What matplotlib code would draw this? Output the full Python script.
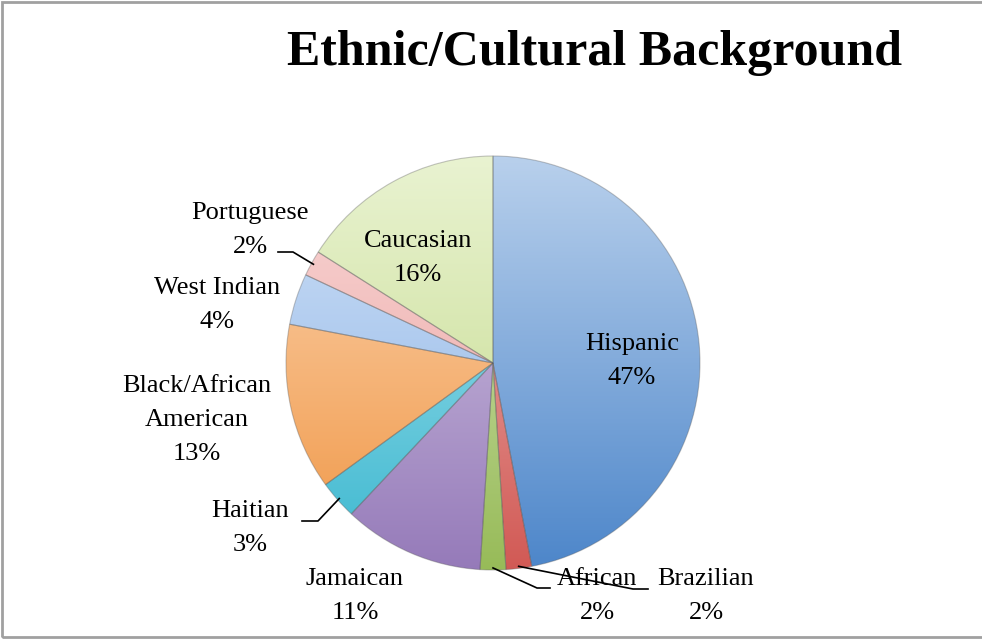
import numpy as np
import matplotlib
matplotlib.use('Agg')
import matplotlib.pyplot as plt
from matplotlib.colors import LinearSegmentedColormap, to_rgb
from matplotlib.patches import Rectangle

plt.rcParams['font.family'] = ['Liberation Serif', 'DejaVu Serif']

# данные
labels = ['Hispanic', 'Brazilian', 'African', 'Jamaican', 'Haitian',
          'Black/African\nAmerican', 'West Indian', 'Portuguese', 'Caucasian']
values = [47, 2, 2, 11, 3, 13, 4, 2, 16]
colors = ['#4f8ad0', '#d85c57', '#9cc15b', '#9a7ebf', '#3cbdd6',
          '#f79a45', '#8cb6ec', '#f0a09e', '#c8e08c']

W, H = 982, 640
cx, cy, r = 493, H - 363, 207

fig = plt.figure(figsize=(W / 100, H / 100), dpi=100)
ax = fig.add_axes([0, 0, 1, 1])

wedges, _ = ax.pie(values, colors=colors, startangle=90, counterclock=False,
                   center=(cx, cy), radius=r,
                   wedgeprops=dict(edgecolor=(0.35, 0.35, 0.35, 0.35), linewidth=0.8))

# градиент сверху вниз внутри каждого сектора
grad = np.linspace(0, 1, 256).reshape(-1, 1)
for w, c in zip(wedges, colors):
    base = np.array(to_rgb(c))
    light = base + (1 - base) * 0.6
    cmap = LinearSegmentedColormap.from_list('g', [base * 0.97, light])
    im = ax.imshow(grad, extent=[cx - r, cx + r, cy - r, cy + r], origin='lower',
                   cmap=cmap, aspect='auto', interpolation='bilinear', zorder=1)
    im.set_clip_path(w)
    w.set_facecolor('none')
    w.set_zorder(2)

# подписи: позиции в пикселях (x, y сверху)
label_pos = {
    'Hispanic': (632, 361),
    'Brazilian': (706, 596),
    'African': (597, 596),
    'Jamaican': (355, 596),
    'Haitian': (250, 528),
    'Black/African\nAmerican': (197, 420),
    'West Indian': (217, 305),
    'Portuguese': (250, 230),
    'Caucasian': (418, 258),
}
for lab, v in zip(labels, values):
    x, y = label_pos[lab]
    ax.text(x, H - y, '%s\n%d%%' % (lab, v), ha='center', va='center',
            multialignment='center', fontsize=19, linespacing=1.7, zorder=5)

# выноски
leaders = {
    'Portuguese': [(278, 252), (293, 252)],
    'Haitian': [(302, 521), (318, 521)],
    'African': [(550, 588), (537, 588)],
    'Brazilian': [(648, 589), (633, 589)],
}
cum = np.cumsum(values) - np.array(values) / 2
for lab, v, m in zip(labels, values, cum):
    if lab not in leaders:
        continue
    ang = np.deg2rad(90 - 360 * m / sum(values))
    px, py = cx + 0.99 * r * np.cos(ang), cy + 0.99 * r * np.sin(ang)
    pts = leaders[lab]
    xs = [p[0] for p in pts] + [px]
    ys = [H - p[1] for p in pts] + [py]
    ax.plot(xs, ys, color='black', lw=1.2, zorder=6)

ax.text(595, H - 53, 'Ethnic/Cultural Background', ha='center', va='center',
        fontsize=36, fontweight='bold')

# рамка
ax.add_patch(Rectangle((2.5, 3), 990, H - 4.5, fill=False, edgecolor='#a0a0a0', lw=2, zorder=10))

ax.set_xlim(0, W)
ax.set_ylim(0, H)
ax.set_aspect('auto')
ax.axis('off')

fig.savefig('out.png', dpi=100)
